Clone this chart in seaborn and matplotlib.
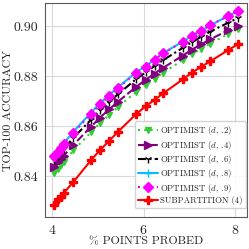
import matplotlib
matplotlib.use("Agg")
import matplotlib.pyplot as plt
import seaborn as sns

# ── datos ────────────────────────────────────────────────────
pct_probed = [4.05, 4.14, 4.20, 4.26, 4.47, 4.85, 5.05, 5.25, 5.44, 5.84,
              6.05, 6.24, 6.43, 6.86, 7.05, 7.26, 7.46, 7.85, 8.06]

opt_2 = [0.8413, 0.8430, 0.8443, 0.8458, 0.8503, 0.8575, 0.8612, 0.8645, 0.8676, 0.8737,
         0.8765, 0.8790, 0.8814, 0.8864, 0.8887, 0.8909, 0.8930, 0.8968, 0.8988]
opt_4 = [0.8438, 0.8455, 0.8468, 0.8482, 0.8525, 0.8597, 0.8634, 0.8667, 0.8697, 0.8757,
         0.8785, 0.8810, 0.8833, 0.8882, 0.8905, 0.8927, 0.8947, 0.8983, 0.9002]
opt_6 = [0.8465, 0.8482, 0.8495, 0.8510, 0.8553, 0.8625, 0.8664, 0.8697, 0.8727, 0.8788,
         0.8815, 0.8840, 0.8864, 0.8913, 0.8935, 0.8957, 0.8978, 0.9013, 0.9032]
opt_8 = [0.8484, 0.8501, 0.8515, 0.8532, 0.8578, 0.8653, 0.8692, 0.8725, 0.8755, 0.8815,
         0.8840, 0.8866, 0.8892, 0.8938, 0.8960, 0.8981, 0.9003, 0.9040, 0.9060]
opt_9 = [0.8481, 0.8497, 0.8511, 0.8528, 0.8573, 0.8648, 0.8687, 0.8720, 0.8751, 0.8813,
         0.8837, 0.8864, 0.8891, 0.8937, 0.8960, 0.8981, 0.9004, 0.9040, 0.9060]
subpart = [0.8284, 0.8307, 0.8317, 0.8333, 0.8377, 0.8463, 0.8504, 0.8541, 0.8577, 0.8648,
           0.8680, 0.8705, 0.8731, 0.8787, 0.8813, 0.8837, 0.8859, 0.8904, 0.8927]

labels = ["OPTIMIST ($d$, .2)", "OPTIMIST ($d$, .4)", "OPTIMIST ($d$, .6)",
          "OPTIMIST ($d$, .8)", "OPTIMIST ($d$, .9)", "SUBPARTITION (4)"]
series = [opt_2, opt_4, opt_6, opt_8, opt_9, subpart]

# ── estilo ───────────────────────────────────────────────────
sns.set_style("whitegrid")
plt.rcParams["font.family"] = ["cmr10", "DejaVu Serif"]
plt.rcParams["mathtext.fontset"] = "cm"
plt.rcParams["axes.formatter.use_mathtext"] = True

colors  = ["#33cc33", "#800080", "black", "#00bfff", "#ff00ff", "red"]
markers = ["v", ">", "1", "+", "D", "P"]
lstyles = [(0, (1, 2)), (0, (4, 1.5)), (0, (4, 1.5, 1, 1.5)), "-", (0, (1, 2)), "-"]
msizes  = [5, 5.5, 6, 6, 5.5, 5.5]

fig = plt.figure(figsize=(2.49, 2.49), dpi=100)
ax = fig.add_axes([0.181, 0.128, 0.811, 0.86])

for s, lbl, c, m, ls, ms in zip(series, labels, colors, markers, lstyles, msizes):
    sns.lineplot(x=pct_probed, y=s, ax=ax, label=lbl, color=c, marker=m,
                 linestyle=ls, markersize=ms, linewidth=1.5,
                 markeredgewidth=1, markeredgecolor=c, sort=False)

ax.set_xlim(3.85, 8.26)
ax.set_ylim(0.8236, 0.9092)
ax.set_xticks([4, 6, 8])
ax.set_yticks([0.84, 0.86, 0.88, 0.90])
ax.set_yticklabels(["0.84", "0.86", "0.88", "0.90"])
ax.tick_params(labelsize=10, pad=1.5)
ax.set_xlabel("% POINTS PROBED", fontsize=8.5, labelpad=0)
ax.set_ylabel("TOP-100 ACCURACY", fontsize=8.5, labelpad=0)
for sp in ax.spines.values():
    sp.set_color("0.35")
    sp.set_linewidth(0.8)
ax.grid(color="0.85", linewidth=0.8)

ax.legend(loc="lower right", bbox_to_anchor=(1.0, 0.035), fontsize=6.3,
          handlelength=2.3, handletextpad=0.15, labelspacing=0.15,
          borderpad=0.4, borderaxespad=0.15, framealpha=0.85, edgecolor="0.8")

fig.savefig("out.png", dpi=100)
